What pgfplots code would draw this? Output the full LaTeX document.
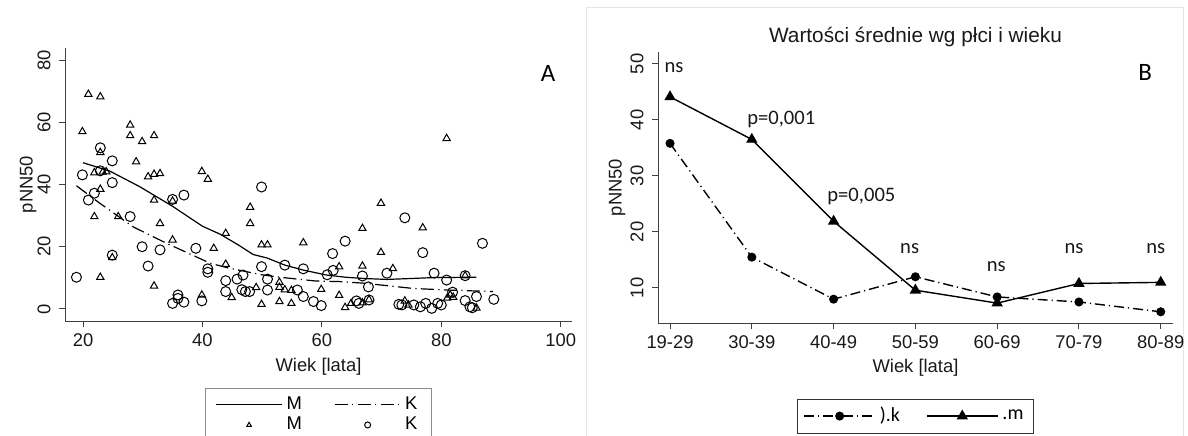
\documentclass[border=0pt]{standalone}
\usepackage{pgfplots}
\pgfplotsset{compat=1.18}
\usepackage{fontspec}
\setmainfont{Liberation Sans}
\newfontfamily\calib{Carlito}
\begin{document}
\begin{tikzpicture}
\useasboundingbox (0,0) rectangle (594pt,217.5pt);
\draw[black!10, line width=0.5pt] (293pt,213.5pt) rectangle (591.5pt,-5pt);
\pgfplotsset{
  every axis/.append style={
    scale only axis,
    axis x line=bottom, axis y line=left,
    axis line style={-, black!75, line width=0.5pt},
    tick align=outside, major tick length=3pt,
    tick style={black!75, line width=0.5pt},
    /pgf/number format/assume math mode=true,
    tick label style={font=\fontsize{9.2}{11}\selectfont, black!90},
    label style={font=\fontsize{9.2}{11}\selectfont, black!90},
    yticklabel style={rotate=90, anchor=south, inner sep=4pt},
    clip=false,
  }
}
% ---------------- Panel A ----------------
\begin{axis}[at={(32.5pt,57pt)}, anchor=south west, width=253.5pt, height=136.5pt,
  xmin=16.985, xmax=101.9, ymin=-3.86, ymax=83.86,
  xtick={20,40,...,100}, ytick={0,20,...,80},
  xlabel={Wiek [lata]}, ylabel={pNN50},
  xlabel style={at={(axis description cs:0.5,-0.168)}, anchor=center},
  ylabel style={at={(axis description cs:-0.073,0.5)}, anchor=center},
  legend columns=2,
  legend style={at={(axis description cs:0.5,-0.245)}, anchor=north, draw=black!45,
    font=\fontsize{9.2}{11}\selectfont,
    /tikz/every even column/.append style={column sep=14pt},
    nodes={inner ysep=1.2pt},
    inner xsep=5pt, inner ysep=3pt, row sep=0pt},
  legend cell align=left,
  legend image code/.code={\draw[mark repeat=2,mark phase=2,#1] plot coordinates {(0pt,0pt) (16.5pt,0pt) (33pt,0pt)};},
]
\addplot[black, line width=0.6pt] coordinates {
(20,47) (24.5,44.3) (29.5,39.3) (35,33) (40,26.6) (43,24) (46,20.6) (48.5,17.5) (50.8,16.4) (53.8,14.1) (56.9,12.5) (60.8,10.9) (64,10.2) (67,9.8) (70.9,9.5) (75,9.8) (78.8,10.1) (85.9,10.2)};
\addlegendentry{M}
\addplot[black, line width=0.6pt, dash pattern=on 6.5pt off 2.2pt on 0.6pt off 2.2pt] coordinates {
(18.9,39.6) (22.8,34) (28.4,26.4) (34,21.1) (37.1,18.4) (41.3,14.7) (44.3,13.2) (49.9,11) (53,10.2) (58.9,9.0) (63,8.8) (67,8.3) (75.3,6.6) (80.9,6.1) (88.7,5.6)};
\addlegendentry{K}
\addplot[only marks, mark=triangle, mark size=2.1pt, mark options={black, line width=0.5pt}, legend image post style={mark size=1.3pt}] coordinates {
(19.9,57.0) (20.9,69.0) (21.9,43.8) (21.9,29.7) (22.9,68.2) (22.9,50.3) (22.9,38.5) (22.9,10.2)
(23.9,44.1) (23.3,44.0) (24.9,16.5) (25.9,29.7) (27.9,59.1) (27.9,55.7) (28.9,47.3) (29.9,53.8)
(30.9,42.5) (31.9,55.7) (31.9,43.3) (31.9,35.0) (31.9,7.4) (32.9,43.5) (32.9,27.5) (35.0,34.7)
(35.0,22.2) (39.9,44.2) (39.9,4.5) (40.9,41.7) (41.9,19.5) (43.9,24.3) (43.9,14.4) (44.9,3.7)
(48.0,32.7) (48.0,27.5) (49.0,6.9) (49.9,20.6) (49.9,1.5) (50.9,20.6) (52.9,8.6) (52.9,7.0)
(52.9,2.4) (53.8,6.2) (54.9,6.0) (54.9,1.8) (56.9,21.3) (59.9,6.3) (62.9,13.6) (62.9,4.4)
(63.9,0.5) (64.9,1.8) (66.8,25.9) (66.8,13.8) (66.8,2.0) (67.9,3.0) (69.9,34.0) (69.9,18.2)
(71.9,13.0) (73.9,2.6) (74.5,1.3) (76.9,26.1) (80.9,54.8) (81.0,3.5) (81.5,4.5) (82.0,3.8)
(84.0,10.7) (85.9,0.3)};
\addlegendentry{M}
\addplot[only marks, mark=o, mark size=2.5pt, mark options={black, line width=0.5pt}, legend image post style={mark size=1.5pt}] coordinates {
(18.9,10.2) (19.9,43.1) (20.9,35.0) (21.9,37.2) (22.9,51.8) (22.9,44.4) (24.9,47.6) (24.9,40.6)
(24.9,17.3) (27.9,29.7) (29.9,20.0) (30.9,13.8) (32.9,19.0) (35.0,35.2) (35.0,1.8) (35.9,4.5)
(35.9,3.4) (36.9,36.6) (36.9,2.2) (38.9,19.5) (39.9,2.6) (40.9,12.9) (40.9,11.8) (43.9,9.1)
(43.9,5.6) (45.8,9.6) (46.6,6.2) (46.8,10.9) (47.2,5.6) (47.9,5.6) (49.9,39.2) (49.9,13.6)
(50.9,9.6) (50.9,6.1) (53.8,14.1) (55.9,6.1) (56.9,12.9) (56.9,4.0) (58.6,2.4) (59.9,1.1)
(60.9,11.0) (61.9,12.4) (61.8,17.8) (63.9,21.8) (65.8,2.6) (66.2,1.8) (66.8,10.6) (67.8,7.1)
(67.9,2.9) (70.9,11.5) (72.9,1.5) (73.4,1.3) (73.9,29.3) (75.4,1.3) (76.5,0.7) (76.9,18.1)
(77.4,1.8) (78.4,0.2) (78.8,11.5) (79.4,1.8) (80.0,1.3) (80.9,9.3) (81.9,5.4) (84.0,10.7)
(84.0,2.7) (84.8,0.7) (85.2,0.4) (85.9,4.0) (86.9,21.1) (88.8,3.1)};
\addlegendentry{K}
\node[font=\calib\fontsize{12.5}{14}\selectfont] at (axis description cs:0.953,0.908) {A};
\end{axis}
% ---------------- Panel B ----------------
\begin{axis}[at={(329pt,56pt)}, anchor=south west, width=257.5pt, height=135.5pt,
  xmin=-0.147, xmax=6.15, ymin=3.75, ymax=52.1,
  xtick={0,...,6}, xticklabels={19-29,30-39,40-49,50-59,60-69,70-79,80-89},
  ytick={10,20,...,50},
  xlabel={Wiek [lata]}, ylabel={pNN50},
  xlabel style={at={(axis description cs:0.5,-0.166)}, anchor=center},
  ylabel style={at={(axis description cs:-0.0796,0.5)}, anchor=center},
  legend columns=2,
  legend style={at={(axis description cs:0.5,-0.28)}, anchor=north, draw=black!80,
    font=\calib\fontsize{10}{12}\selectfont,
    /tikz/every even column/.append style={column sep=11pt},
    inner xsep=3pt, inner ysep=2pt},
  legend cell align=left,
  legend image code/.code={\draw[mark repeat=2,mark phase=2,#1] plot coordinates {(0pt,0pt) (17.75pt,0pt) (35.5pt,0pt)};},
]
\addplot[black, line width=0.7pt, dash pattern=on 5pt off 2pt on 0.6pt off 2pt, mark=*, mark size=1.9pt, mark options={solid}] coordinates {
(0,35.8) (1,15.5) (2,8.0) (3,12.0) (4,8.4) (5,7.5) (6,5.75)};
\addlegendentry{).k}
\addplot[black, line width=0.7pt, mark=triangle*, mark size=2.6pt, mark options={solid}] coordinates {
(0,44.1) (1,36.5) (2,21.9) (3,9.6) (4,7.3) (5,10.8) (6,11.0)};
\addlegendentry{.m}
\begin{scope}[every node/.style={font=\calib\fontsize{10.3}{12}\selectfont, black!90}]
\node at (axis cs:0.05,49.4) {ns};
\node at (axis cs:1.36,40.0) {p=0,001};
\node at (axis cs:2.34,26.3) {p=0,005};
\node at (axis cs:2.93,17.1) {ns};
\node at (axis cs:3.99,13.8) {ns};
\node at (axis cs:4.94,17.1) {ns};
\node at (axis cs:5.94,17.1) {ns};
\end{scope}
\node[font=\fontsize{10.4}{12}\selectfont, black!90] at (axis description cs:0.5,1.055) {Wartości średnie wg płci i wieku};
\node[font=\calib\fontsize{12.5}{14}\selectfont] at (axis description cs:0.946,0.926) {B};
\end{axis}
\end{tikzpicture}
\end{document}
